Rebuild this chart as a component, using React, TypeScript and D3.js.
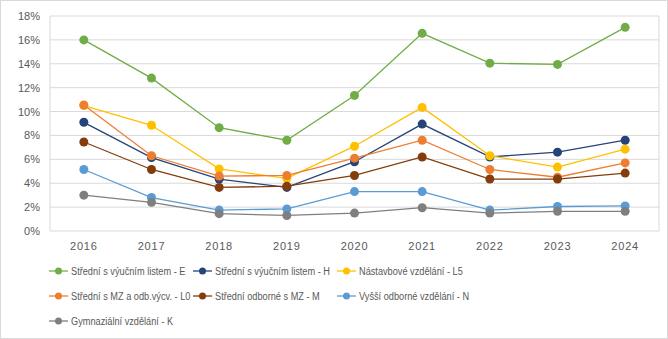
import React from "react";
import * as d3 from "d3";

const years = ["2016", "2017", "2018", "2019", "2020", "2021", "2022", "2023", "2024"];
const yTicks = [0, 2, 4, 6, 8, 10, 12, 14, 16, 18];

const seriesNames = [
  "Střední s výučním listem - E",
  "Střední s výučním listem - H",
  "Nástavbové vzdělání - L5",
  "Střední s MZ a odb.výcv. - L0",
  "Střední odborné s MZ - M",
  "Vyšší odborné vzdělání - N",
  "Gymnaziální vzdělání - K",
];
const seriesColors = ["#70AD47", "#264478", "#FFC000", "#ED7D31", "#843C0C", "#5B9BD5", "#7F7F7F"];

const valuesE = [16.0, 12.8, 8.65, 7.6, 11.35, 16.55, 14.05, 13.95, 17.05];
const valuesH = [9.1, 6.15, 4.35, 3.65, 5.8, 8.95, 6.2, 6.6, 7.6];
const valuesL5 = [10.5, 8.85, 5.2, 4.4, 7.1, 10.35, 6.3, 5.35, 6.85];
const valuesL0 = [10.55, 6.3, 4.6, 4.65, 6.1, 7.6, 5.15, 4.5, 5.7];
const valuesM = [7.45, 5.15, 3.65, 3.75, 4.65, 6.2, 4.35, 4.35, 4.85];
const valuesN = [5.15, 2.8, 1.75, 1.85, 3.3, 3.3, 1.75, 2.05, 2.1];
const valuesK = [3.0, 2.4, 1.45, 1.3, 1.5, 1.95, 1.5, 1.65, 1.65];

const allValues = [valuesE, valuesH, valuesL5, valuesL0, valuesM, valuesN, valuesK];

const W = 668;
const H = 339;
const plot = { left: 50, right: 659, top: 16, bottom: 231 };
const FONT = "'Liberation Sans', Arial, sans-serif";

export default function App() {
  React.useEffect(() => {
    document.body.style.margin = "0";
  }, []);

  const x = d3.scalePoint<string>().domain(years).range([plot.left, plot.right]).padding(0.5);
  const y = d3.scaleLinear().domain([0, 18]).range([plot.bottom, plot.top]);
  const line = d3
    .line<number>()
    .x((_, i) => x(years[i]) as number)
    .y((d) => y(d));

  const legendCols = [49, 193, 337];
  const legendRows = [271, 296, 321];

  return (
    <svg width={W} height={H} style={{ display: "block", fontFamily: FONT }}>
      <rect x={0.5} y={0.5} width={W - 1} height={H - 1} fill="#fff" stroke="#d9d9d9" />
      {yTicks.map((t) => (
        <g key={t}>
          <line x1={plot.left} x2={plot.right} y1={y(t)} y2={y(t)} stroke="#d9d9d9" strokeWidth={1} />
          <text x={40} y={y(t) + 4} textAnchor="end" fontSize={11} fill="#595959">
            {t}%
          </text>
        </g>
      ))}
      <line x1={plot.left} x2={plot.left} y1={plot.top} y2={plot.bottom} stroke="#d9d9d9" />
      <line x1={plot.right} x2={plot.right} y1={plot.top} y2={plot.bottom} stroke="#d9d9d9" />
      {years.map((yr) => (
        <text key={yr} x={x(yr)} y={250} textAnchor="middle" fontSize={11} fill="#595959" letterSpacing={0.8}>
          {yr}
        </text>
      ))}
      {allValues.map((vals, si) => (
        <g key={si}>
          <path d={line(vals) || ""} fill="none" stroke={seriesColors[si]} strokeWidth={1.3} />
          {vals.map((v, i) => (
            <circle key={i} cx={x(years[i])} cy={y(v)} r={4.5} fill={seriesColors[si]} />
          ))}
        </g>
      ))}
      {seriesNames.map((name, si) => {
        const cx = legendCols[si % 3];
        const cy = legendRows[Math.floor(si / 3)];
        return (
          <g key={name}>
            <line x1={cx} x2={cx + 19} y1={cy} y2={cy} stroke={seriesColors[si]} strokeWidth={1.3} />
            <circle cx={cx + 9.5} cy={cy} r={3.5} fill={seriesColors[si]} />
            <text
              transform={`translate(${cx + 22},${cy + 4}) scale(0.8,1)`}
              fontSize={11.5}
              fill="#595959"
            >
              {name}
            </text>
          </g>
        );
      })}
    </svg>
  );
}
